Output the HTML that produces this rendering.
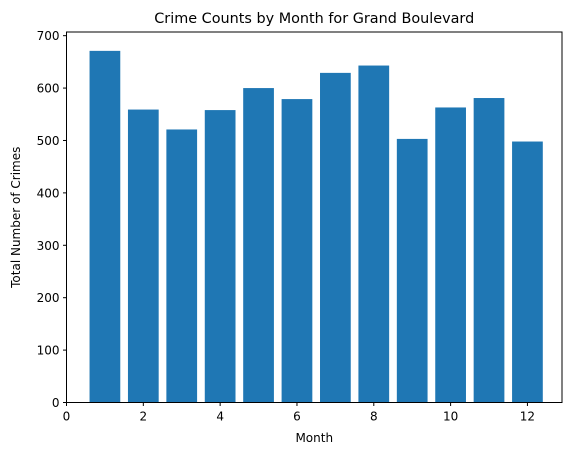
<!DOCTYPE html>
<html><head><meta charset="utf-8"><style>
body{margin:0;background:#fff;}
svg text{font-family:"DejaVu Sans","Liberation Sans",sans-serif;fill:#000;}
</style></head><body>
<svg id="chart" width="575" height="455" xmlns="http://www.w3.org/2000/svg"></svg>
<script>
const months = [1,2,3,4,5,6,7,8,9,10,11,12];
const counts = [671,559,521,558,600,579,629,643,503,563,581,498];
const xTicks = [0,2,4,6,8,10,12];
const yTicks = [0,100,200,300,400,500,600,700];

const L=66.5,R=562,T=32,B=402.5,xmin=0,xmax=12.9,ymax=707;
const X=v=>L+(v-xmin)/(xmax-xmin)*(R-L);
const Y=v=>B-v/ymax*(B-T);
const svg=document.getElementById('chart');
const NS='http://www.w3.org/2000/svg';
function mk(tag,attrs,parent){const e=document.createElementNS(NS,tag);for(const k in attrs)e.setAttribute(k,attrs[k]);(parent||svg).appendChild(e);return e;}

months.forEach((m,i)=>{
  const r=mk('rect',{x:X(m-0.4),y:Y(counts[i]),width:X(m+0.4)-X(m-0.4),height:B-Y(counts[i]),fill:'#1f77b4'});
  
  
});
const frame=mk('rect',{x:L,y:T,width:R-L,height:B-T,fill:'none',stroke:'#000','stroke-width':1});



xTicks.forEach(t=>{
  mk('line',{x1:X(t),x2:X(t),y1:B,y2:B+3.5,stroke:'#000'});
  const tx=mk('text',{x:X(t),y:B+18,'text-anchor':'middle','font-size':12});
  tx.textContent=t;
  
  
});
yTicks.forEach(t=>{
  mk('line',{x1:L-3.5,x2:L,y1:Y(t),y2:Y(t),stroke:'#000'});
  const tx=mk('text',{x:L-7,y:Y(t)+4.5,'text-anchor':'end','font-size':12});
  tx.textContent=t;
  
  
});
const title=mk('text',{x:(L+R)/2,y:T-9,'text-anchor':'middle','font-size':14.4});
title.textContent='Crime Counts by Month for Grand Boulevard';


const xl=mk('text',{x:(L+R)/2,y:442,'text-anchor':'middle','font-size':12});
xl.textContent='Month';


const yl=mk('text',{x:0,y:0,'text-anchor':'middle','font-size':12,transform:`translate(20,${(T+B)/2}) rotate(-90)`});
yl.textContent='Total Number of Crimes';


</script>
</body></html>
